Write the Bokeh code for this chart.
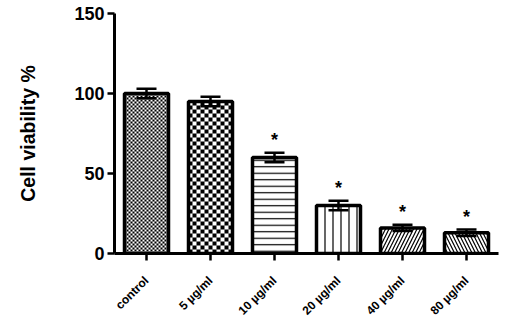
from bokeh.plotting import figure
from bokeh.models import (ColumnDataSource, FixedTicker, Range1d, LinearAxis,
                          CustomLabelingPolicy)
from bokeh.embed import file_html
from bokeh.resources import INLINE
from bokeh.core.properties import value
import numpy as np
import math

categories = ["control", "5 µg/ml", "10 µg/ml", "20 µg/ml", "40 µg/ml", "80 µg/ml"]
viability = [100, 95, 60, 30, 16, 13]
sem = [3, 3, 3, 3, 2, 2]
significant = [False, False, True, True, True, True]
y_ticks = [0, 50, 100, 150]

# styling
patterns = [" ", " ", "-", "|", "/", "\\"]
scales = [1, 1, 6.5, 8, 7, 7]
checker_cells = {0: 2, 1: 4}   # bar index -> checker cell size in px
BAR_W = 0.6875
FRAME_W, FRAME_H = 384, 240
Y_MAX = 150
LABEL_SHIFT_PX = 0

n = len(categories)
xpos = list(range(n))   # category positions on the x scale

p = figure(x_range=Range1d(-0.5, n - 0.5), y_range=Range1d(0, Y_MAX),
           frame_width=FRAME_W, frame_height=FRAME_H, output_backend="svg", toolbar_location=None,
           min_border_left=114, min_border_right=6, min_border_top=13, min_border_bottom=58)
p.outline_line_color = None
p.grid.visible = False
p.background_fill_color = "white"

# checkerboard textures, drawn as images inside the bars
px_per_x = FRAME_W / n
px_per_y = FRAME_H / Y_MAX
for i, cell in checker_cells.items():
    w = int(round(BAR_W * px_per_x))
    h = int(round(viability[i] * px_per_y))
    jj, ii = np.meshgrid(np.arange(w), np.arange(h))
    black = ((ii // cell + jj // cell) % 2) == 0
    img = np.empty((h, w), dtype=np.uint32)
    view = img.view(dtype=np.uint8).reshape((h, w, 4))
    view[..., 0] = np.where(black, 0, 255)
    view[..., 1] = np.where(black, 0, 255)
    view[..., 2] = np.where(black, 0, 255)
    view[..., 3] = 255
    p.image_rgba(image=[img], x=[xpos[i] - BAR_W / 2], y=[0], dw=[BAR_W], dh=[viability[i]])

src = ColumnDataSource(dict(
    x=xpos, top=viability,
    upper=[v + s for v, s in zip(viability, sem)],
    lower=[v - s for v, s in zip(viability, sem)],
    pat=patterns, hs=scales,
    fa=[0 if i in checker_cells else 1 for i in range(n)],
))
p.vbar(x="x", top="top", width=BAR_W, source=src, fill_color="white", fill_alpha="fa",
       line_color="black", line_width=3.5, hatch_pattern="pat", hatch_color="black",
       hatch_scale="hs", hatch_weight=1.2)
p.segment(x0="x", y0="lower", x1="x", y1="upper", source=src, line_color="black", line_width=2.5)
p.scatter(x="x", y="upper", source=src, marker="dash", size=20, line_color="black", line_width=2.5)
p.scatter(x="x", y="lower", source=src, marker="dash", size=20, line_color="black", line_width=2.5)

sx = [x for x, s in zip(xpos, significant) if s]
sy = [v + e + 8 for v, e, s in zip(viability, sem, significant) if s]
p.text(x=sx, y=sy, text=["*"] * len(sx), text_align="center", text_baseline="middle",
       text_font=value("Liberation Sans"), text_font_style="bold", text_font_size="18px",
       text_color="black")

p.yaxis.ticker = FixedTicker(ticks=y_ticks)
p.xaxis.ticker = FixedTicker(ticks=xpos)
p.yaxis.minor_tick_line_color = None
p.xaxis.minor_tick_line_color = None
p.yaxis.axis_label = "Cell viability %"
for ax in (p.xaxis[0], p.yaxis[0]):
    ax.axis_line_width = 3
    ax.axis_line_color = "black"
    ax.major_tick_line_width = 2.5
    ax.major_tick_line_color = "black"
    ax.major_tick_out = 7
    ax.major_tick_in = 0
    ax.major_label_text_font = "Liberation Sans"
    ax.major_label_text_font_style = "bold"
    ax.major_label_text_color = "black"
p.yaxis.major_label_text_font_size = "18px"
p.yaxis.major_label_standoff = 3
p.yaxis.axis_label_text_font = "Liberation Sans"
p.yaxis.axis_label_text_font_style = "bold"
p.yaxis.axis_label_text_font_size = "19.5px"
p.yaxis.axis_label_text_color = "black"
p.yaxis.axis_label_standoff = 32

# the main x axis only draws the line and ticks
p.xaxis.major_label_policy = CustomLabelingPolicy(code="return []")
p.xaxis.major_label_text_font_size = "1px"
p.xaxis.major_label_standoff = 0

# rotated category labels, on an axis of their own
shift = LABEL_SHIFT_PX / px_per_x
p.extra_x_ranges = {"labels": Range1d(-0.5 + shift, n - 0.5 + shift)}
lab_axis = LinearAxis(x_range_name="labels",
                      ticker=FixedTicker(ticks=xpos),
                      major_label_overrides={i: c for i, c in zip(xpos, categories)},
                      axis_line_color=None, major_tick_line_color=None, minor_tick_line_color=None,
                      major_label_orientation=math.pi / 4, major_label_standoff=8,
                      major_label_text_font="Liberation Sans", major_label_text_font_style="bold",
                      major_label_text_font_size="12px", major_label_text_color="black")
p.add_layout(lab_axis, "below")

open("out.html", "w").write(file_html(p, INLINE))
